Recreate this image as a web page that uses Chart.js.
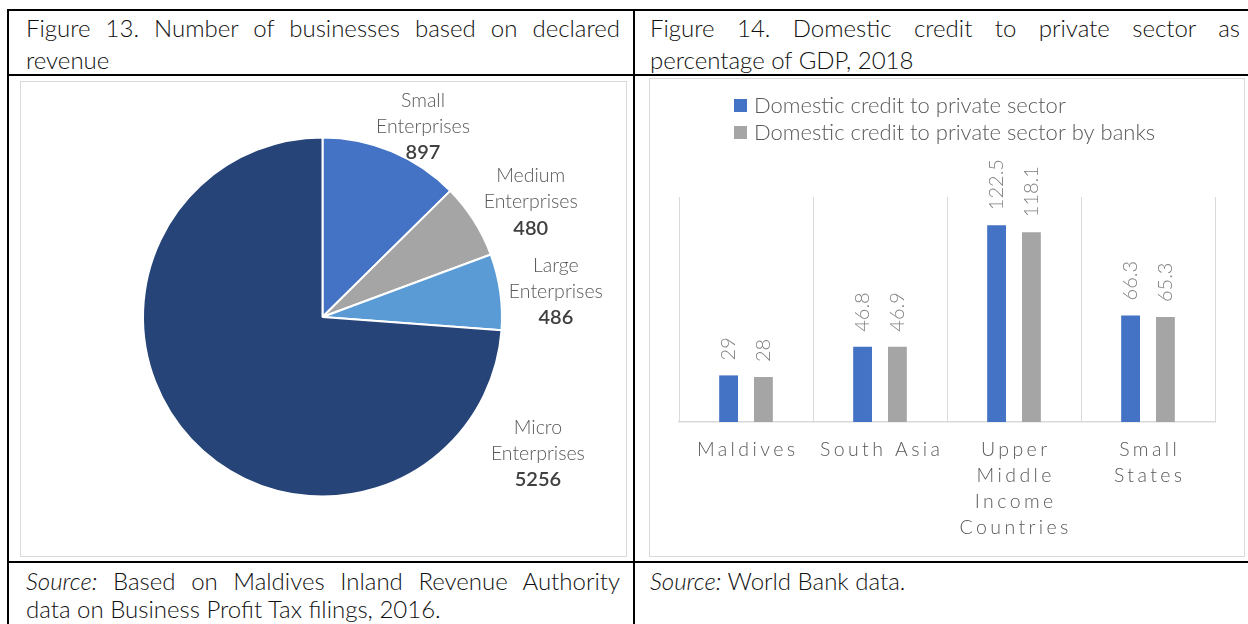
<!DOCTYPE html>
<html><head><meta charset="utf-8">
<script src="https://cdn.jsdelivr.net/npm/chart.js@4"></script>
<style>
body{margin:0;background:#fff;width:1248px;height:624px;overflow:hidden;position:relative;font-family:Lato,sans-serif;}
.l{position:absolute;background:#000;}
.t{position:absolute;font-size:24px;font-weight:300;color:#111;line-height:30px;white-space:nowrap;}
.j{text-align:justify;text-align-last:justify;}
.box{position:absolute;border:1px solid #d9d9d9;box-sizing:border-box;}
.box canvas{position:absolute;left:0;top:0;}
</style></head>
<body>
<!-- table rules -->
<div class="l" style="left:7px;top:9px;width:1300px;height:2px"></div>
<div class="l" style="left:7px;top:74px;width:1300px;height:2px"></div>
<div class="l" style="left:7px;top:561px;width:1300px;height:2px"></div>
<div class="l" style="left:7px;top:9px;width:2px;height:700px"></div>
<div class="l" style="left:633px;top:9px;width:2px;height:700px"></div>

<div class="t j" style="left:26px;top:13px;width:594px">Figure 13. Number of businesses based on declared</div>
<div class="t" style="left:26px;top:45px">revenue</div>
<div class="t j" style="left:650px;top:13px;width:590px">Figure 14. Domestic credit to private sector as</div>
<div class="t" style="left:650px;top:45px">percentage of GDP, 2018</div>

<div class="t j" style="left:26px;top:566px;width:594px"><i>Source:</i> Based on Maldives Inland Revenue Authority</div>
<div class="t" style="left:26px;top:594px">data on Business Profit Tax filings, 2016.</div>
<div class="t" style="left:650px;top:566px"><i>Source:</i> World Bank data.</div>

<div class="box" style="left:20px;top:81px;width:607px;height:476px"><canvas id="pie"></canvas></div>
<div class="box" style="left:649px;top:78px;width:596px;height:479px"><canvas id="bar"></canvas></div>

<script>
// ---------- data ----------
const pieLabels = ['Small Enterprises', 'Medium Enterprises', 'Large Enterprises', 'Micro Enterprises'];
const pieValues = [897, 480, 486, 5256];
const pieColors = ['#4472C4', '#A5A5A5', '#5B9BD5', '#264478'];

const barCategories = [['Maldives'], ['South Asia'], ['Upper', 'Middle', 'Income', 'Countries'], ['Small', 'States']];
const seriesNames = ['Domestic credit to private sector', 'Domestic credit to private sector by banks'];
const creditTotal = [29, 46.8, 122.5, 66.3];
const creditBanks = [28, 46.9, 118.1, 65.3];
const seriesColors = ['#4472C4', '#A5A5A5'];

Chart.defaults.font.family = 'Lato, sans-serif';
Chart.defaults.animation = false;

// ---------- pie ----------
const pieLabelPlugin = {
  id: 'pieLabels',
  afterDatasetsDraw(chart, args, opts) {
    const ctx = chart.ctx;
    const meta = chart.getDatasetMeta(0);
    meta.data.forEach((arc, i) => {
      const off = opts.offsets[i];
      const cx = arc.x + off[0] * arc.outerRadius;
      const cy = arc.y + off[1] * arc.outerRadius;
      const words = chart.data.labels[i].split(' ');
      ctx.save();
      ctx.textAlign = 'center';
      ctx.textBaseline = 'middle';
      ctx.font = '300 19.5px Lato';
      ctx.fillStyle = '#595959';
      ctx.fillText(words[0], cx, cy - 26);
      ctx.fillText(words[1], cx, cy);
      ctx.font = '600 20px Lato';
      ctx.fillStyle = '#404040';
      ctx.fillText(String(chart.data.datasets[0].data[i]), cx, cy + 26);
      ctx.restore();
    });
  }
};

new Chart(document.getElementById('pie'), {
  type: 'pie',
  data: {
    labels: pieLabels,
    datasets: [{ data: pieValues, backgroundColor: pieColors, borderColor: '#ffffff', borderWidth: 2 }]
  },
  options: {
    responsive: true,
    maintainAspectRatio: false,
    layout: { padding: { left: 121, right: 123, top: 54, bottom: 58 } },
    plugins: {
      legend: { display: false },
      tooltip: { enabled: false },
      pieLabels: { offsets: [[0.56, -1.06], [1.16, -0.64], [1.30, -0.14], [1.20, 0.76]] }
    }
  },
  plugins: [pieLabelPlugin]
});

// ---------- bar ----------
const barLegendPlugin = {
  id: 'barLegend',
  afterDraw(chart, args, opts) {
    const ctx = chart.ctx;
    ctx.save();
    ctx.font = opts.font;
    ctx.textBaseline = 'middle';
    ctx.textAlign = 'left';
    chart.data.datasets.forEach((ds, i) => {
      const y = opts.y + i * opts.rowGap;
      ctx.fillStyle = ds.backgroundColor;
      ctx.fillRect(opts.x, y - opts.box / 2, opts.box, opts.box);
      ctx.fillStyle = opts.color;
      ctx.fillText(ds.label, opts.x + opts.box + 7, y);
    });
    ctx.restore();
  }
};

const barValueLabels = {
  id: 'barValues',
  afterDatasetsDraw(chart) {
    const ctx = chart.ctx;
    ctx.save();
    ctx.font = '300 20px Lato';
    ctx.fillStyle = '#7f7f7f';
    chart.data.datasets.forEach((ds, di) => {
      chart.getDatasetMeta(di).data.forEach((bar, i) => {
        ctx.save();
        ctx.translate(bar.x, bar.y - 15);
        ctx.rotate(-Math.PI / 2);
        ctx.textAlign = 'left';
        ctx.textBaseline = 'middle';
        ctx.fillText(String(ds.data[i]), 0, 0);
        ctx.restore();
      });
    });
    ctx.restore();
  }
};

const spacedTicks = {
  id: 'spacedTicks',
  beforeDraw(chart) {
    const s = chart.scales.x;
    if (!s._spaced) {
      const orig = s.drawLabels;
      s.drawLabels = function (area) {
        this.ctx.save();
        this.ctx.letterSpacing = '3.4px';
        this.ctx.translate(1.7, 0);
        orig.call(this, area);
        this.ctx.restore();
      };
      s._spaced = true;
    }
  }
};

new Chart(document.getElementById('bar'), {
  type: 'bar',
  data: {
    labels: barCategories,
    datasets: [
      { label: seriesNames[0], data: creditTotal, backgroundColor: seriesColors[0], categoryPercentage: 0.52, barPercentage: 0.54 },
      { label: seriesNames[1], data: creditBanks, backgroundColor: seriesColors[1], categoryPercentage: 0.52, barPercentage: 0.54 }
    ]
  },
  options: {
    responsive: true,
    maintainAspectRatio: false,
    layout: { padding: { left: 29, right: 29, top: 118, bottom: 0 } },
    scales: {
      x: {
        grid: { offset: true, color: '#d9d9d9', lineWidth: 1, drawTicks: false },
        border: { color: '#d9d9d9', width: 1.5 },
        ticks: { color: '#595959', font: { size: 19.5, weight: '300', lineHeight: 1.333 }, padding: 15, maxRotation: 0, autoSkip: false }
      },
      y: { display: false, min: 0, max: 140 }
    },
    plugins: {
      legend: { display: false },
      tooltip: { enabled: false },
      barLegend: { x: 84, y: 26.5, rowGap: 27, box: 13, font: '300 22px Lato', color: '#595959' }
    }
  },
  plugins: [barValueLabels, barLegendPlugin, spacedTicks]
});
</script>
</body></html>
